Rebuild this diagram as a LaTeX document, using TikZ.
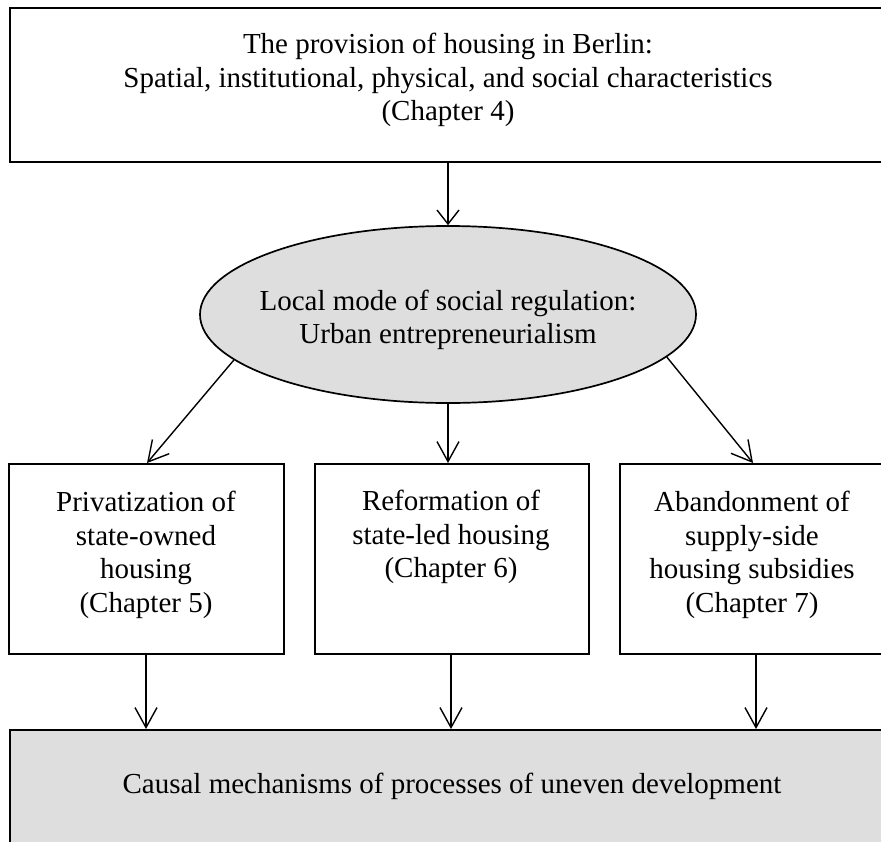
\documentclass[tikz,border=0pt]{standalone}
\usepackage{fontspec}
\setmainfont{Liberation Serif}
\usetikzlibrary{shapes.geometric,arrows.meta}
\definecolor{panelgray}{RGB}{222,222,222}
\tikzset{
  box/.style={draw, line width=1.7pt, rectangle, inner sep=0pt},
  oval/.style={draw, line width=1.7pt, ellipse, fill=panelgray, inner sep=0pt,
    minimum width=496pt, minimum height=177pt},
  flow/.style={line width=1.4pt, -{Straight Barb[length=20pt,width=22pt,line width=1.4pt]}},
  shortflow/.style={line width=1.4pt, -{Straight Barb[length=14pt,width=22pt,line width=1.4pt]}},
  txt/.style={font=\fontsize{29}{33.5}\selectfont, align=center, inner sep=0pt}
}
\begin{document}
\begin{tikzpicture}[x=1pt,y=-1pt]
\useasboundingbox (0,0) rectangle (881,841);

% top box: overview chapter
\node[box, minimum width=878pt, minimum height=154pt, anchor=north west] (top) at (9,7) {};
\node[txt, anchor=north] (toptxt) at (448,33)
  {The provision of housing in Berlin:\\Spatial, institutional, physical, and social characteristics\\(Chapter 4)};

% regulation ellipse
\node[oval] (ell) at (448,314.5) {};
\node[txt] (elltxt) at (448,320) {Local mode of social regulation:\\Urban entrepreneurialism};

% three chapter boxes
\node[box, minimum width=275pt, minimum height=190pt, anchor=north west] (lb) at (8,463) {};
\node[box, minimum width=274pt, minimum height=190pt, anchor=north west] (mb) at (314,463) {};
\node[box, minimum width=275pt, minimum height=190pt, anchor=north west] (rb) at (619,463) {};
\node[txt, anchor=north] (lbtxt) at (146,491) {Privatization of\\state-owned\\housing\\(Chapter 5)};
\node[txt, anchor=north] (mbtxt) at (451,490) {Reformation of\\state-led housing\\(Chapter 6)};
\node[txt, anchor=north] (rbtxt) at (752,491) {Abandonment of\\supply-side\\housing subsidies\\(Chapter 7)};

% bottom box: outcome
\node[box, fill=panelgray, minimum width=886pt, minimum height=114pt, anchor=north west] (bot) at (9,729) {};
\node[txt] (bottxt) at (452,786) {Causal mechanisms of processes of uneven development};

% connectors
\draw[shortflow] (top.south -| ell.north) -- (ell.north);
\draw[flow] (ell.192) -- (lb.north -| 147,0);
\draw[flow] (ell.south) -- (mb.north -| ell.south);
\draw[flow] (ell.-11) -- (rb.north -| 753,0);
\draw[flow] (lb.south -| 146,0) -- (bot.north -| 146,0);
\draw[flow] (mb.south -| 451,0) -- (bot.north -| 451,0);
\draw[flow] (rb.south -| 756,0) -- (bot.north -| 756,0);
\end{tikzpicture}
\end{document}
